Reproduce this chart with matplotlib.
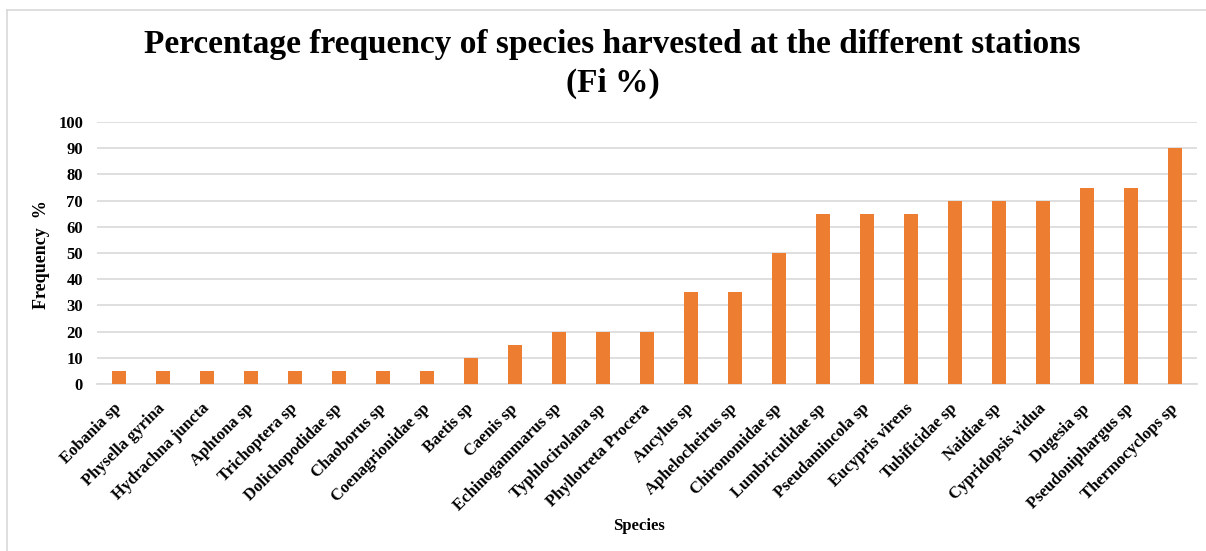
import matplotlib.pyplot as plt
from matplotlib.lines import Line2D

plt.rcParams['font.family'] = ['Liberation Serif', 'DejaVu Serif']
plt.rcParams['font.weight'] = 'bold'

species = ["Eobania sp", "Physella gyrina", "Hydrachna juncta", "Aphtona sp",
           "Trichoptera sp", "Dolichopodidae sp", "Chaoborus sp",
           "Coenagrionidae sp", "Baetis sp", "Caenis sp", "Echinogammarus sp",
           "Typhlocirolana sp", "Phyllotreta Procera", "Ancylus sp",
           "Aphelocheirus sp", "Chironomidae sp", "Lumbriculidae sp",
           "Pseudamincola sp", "Eucypris virens", "Tubificidae sp",
           "Naidiae sp", "Cypridopsis vidua", "Dugesia sp",
           "Pseudoniphargus sp", "Thermocyclops sp"]
freq = [5, 5, 5, 5, 5, 5, 5, 5, 10, 15, 20, 20, 20, 35, 35, 50,
        65, 65, 65, 70, 70, 70, 75, 75, 90]
yticks = list(range(0, 101, 10))

W, H = 1206, 551
fig = plt.figure(figsize=(W / 100, H / 100), dpi=100)
ax = fig.add_axes([97 / W, 1 - 384 / H, (1197 - 97) / W, (384 - 122) / H])

# chart frame (top and left edges only)
fig.lines.append(Line2D([7 / W, 7 / W], [0, 1 - 10 / H], transform=fig.transFigure,
                        color='#d9d9d9', linewidth=1.2))
fig.lines.append(Line2D([7 / W, 1], [1 - 10 / H, 1 - 10 / H], transform=fig.transFigure,
                        color='#d9d9d9', linewidth=1.2))

x = range(len(species))
ax.bar(x, freq, width=0.31, color='#ED7D31', zorder=3)

ax.set_xlim(-0.5, len(species) - 0.5)
ax.set_ylim(0, 100)
ax.set_yticks(yticks)
ax.set_yticklabels([str(v) for v in yticks], fontsize=12, fontweight='bold')
ax.set_xticks(list(x))
ax.set_xticklabels(species, rotation=45, ha='right', va='center',
                   rotation_mode='anchor', fontsize=12, fontweight='bold')
ax.tick_params(axis='y', length=0, pad=10)
ax.tick_params(axis='x', length=0, pad=16)

ax.grid(axis='y', color='#d9d9d9', linewidth=1.2, zorder=0)
for s in ['top', 'right', 'left']:
    ax.spines[s].set_visible(False)
ax.spines['bottom'].set_color('#d9d9d9')
ax.spines['bottom'].set_linewidth(1.2)

fig.text(0.508, 1 - 44 / H, "Percentage frequency of species harvested at the different stations",
         ha='center', va='center', fontsize=24, fontweight='bold')
fig.text(0.508, 1 - 83 / H, "(Fi %)", ha='center', va='center',
         fontsize=24, fontweight='bold')
fig.text(42 / W, 1 - 255 / H, "Frequency  %", rotation=90, ha='center',
         va='center', fontsize=13, fontweight='bold')
fig.text(639 / W, 1 - 526 / H, "Species", ha='center', va='center',
         fontsize=12, fontweight='bold')

fig.savefig('out.png', dpi=100, facecolor='white')
